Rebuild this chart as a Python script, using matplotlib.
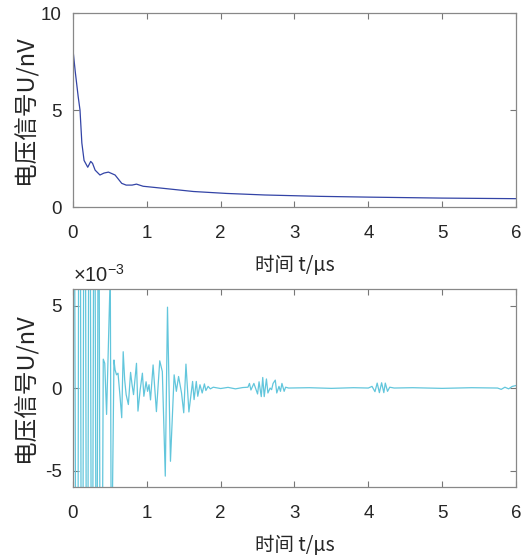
import matplotlib
matplotlib.use("Agg")
import matplotlib.pyplot as plt
import numpy as np

plt.rcParams["font.family"] = ["Liberation Sans", "DejaVu Sans"]
plt.rcParams["axes.unicode_minus"] = False
plt.rcParams["mathtext.fontset"] = "custom"
plt.rcParams["mathtext.rm"] = "Liberation Sans"

# top: voltage signal U (nV) vs time (us)
t_top = [0.0, 0.03, 0.07, 0.095, 0.12, 0.15, 0.2, 0.24, 0.265, 0.3, 0.365, 0.42,
         0.48, 0.57, 0.66, 0.72, 0.8, 0.86, 0.95, 1.18, 1.63, 2.08, 2.6, 3.34,
         4.0, 5.0, 6.0]
u_top = [8.1, 7.0, 5.7, 5.0, 3.3, 2.4, 2.05, 2.35, 2.25, 1.9, 1.65, 1.75,
         1.8, 1.65, 1.22, 1.13, 1.13, 1.18, 1.07, 0.98, 0.80, 0.70, 0.62, 0.55,
         0.51, 0.46, 0.43]

# bottom: oscillating part, values in units of 1e-3 nV
t_bot = [0.0, 0.056, 0.088, 0.122, 0.157, 0.191, 0.223, 0.257, 0.289, 0.319,
         0.347, 0.378, 0.41, 0.43, 0.455, 0.505, 0.52, 0.555, 0.57, 0.59, 0.61,
         0.635, 0.66, 0.68, 0.70, 0.72, 0.75, 0.78, 0.80, 0.82, 0.86, 0.88, 0.91,
         0.94, 0.96, 0.99, 1.01, 1.03, 1.05, 1.085, 1.13, 1.175, 1.21, 1.25, 1.28,
         1.32, 1.37, 1.40, 1.43, 1.47, 1.50, 1.53, 1.57, 1.62, 1.64, 1.67, 1.69,
         1.72, 1.75, 1.78, 1.80, 1.83, 1.86, 1.9, 2.0, 2.1, 2.2, 2.3, 2.37, 2.39,
         2.41, 2.45, 2.50, 2.52, 2.55, 2.57, 2.59, 2.62, 2.64, 2.67, 2.69, 2.71,
         2.74, 2.76, 2.79, 2.81, 2.83, 2.86, 2.88, 2.92, 3.2, 3.5, 3.8, 4.0, 4.05,
         4.09, 4.12, 4.15, 4.18, 4.21, 4.23, 4.26, 4.29, 4.35, 4.6, 5.0, 5.4,
         5.75, 5.8, 5.85, 5.9, 5.95, 6.0]
u_bot = [40, -38, 36, -34, 32, -30, 28, -26, 24, -22,
         20, -30, 1.75, 1.5, -1.6, 7.0, -12.5, 1.7, 1.1, 0.8, 0.9,
         -0.4, -1.8, 2.2, 0.5, -0.4, -1.0, 0.95, 0.2, -0.4, 1.5, -1.4, -0.1,
         0.9, -0.5, 0.38, -0.2, 0.2, -0.72, 1.4, -1.43, 1.65, 1.0, -5.34, 4.9,
         -4.44, 0.8, -0.2, 0.7, -0.3, -1.5, 1.45, -1.45, 0.4, -0.7, 0.4, -0.5,
         0.2, -0.3, 0.25, -0.15, 0.1, -0.05, 0.05, -0.03, 0.04, -0.05, 0.03, 0.05, 0.28,
         -0.12, 0.28, -0.36, 0.38, -0.52, 0.64, -0.52, 0.55, -0.3, 0.0, -0.1, 0.28,
         0.48, -0.3, 0.1, -0.2, 0.28, -0.2, 0.05, 0.0, 0.02, -0.02, 0.02, 0.0, 0.1,
         -0.22, 0.3, -0.28, 0.32, -0.28, 0.3, -0.2, 0.05, 0.0, 0.02, -0.02, 0.02,
         0.0, -0.08, 0.05, -0.05, 0.1, 0.15]

xticks = [0, 1, 2, 3, 4, 5, 6]
xlabel = "时间 t/μs"
ylabel = "电压信号U/nV"

cjk = ["Noto Sans CJK SC", "DejaVu Sans"]

fig = plt.figure(figsize=(5.27, 5.58), dpi=100)
ax1 = fig.add_axes([0.1385, 0.629, 0.8406, 0.3477])
ax2 = fig.add_axes([0.1385, 0.1272, 0.8406, 0.3548])

ax1.plot(t_top, u_top, color="#3344a6", lw=0.9)
ax1.set_ylim(0, 10)
ax1.set_yticks([0, 5, 10])

ax2.plot(t_bot, u_bot, color="#62c6dc", lw=0.9)
ax2.set_ylim(-6, 6)
ax2.set_yticks([-5, 0, 5])
ax2.text(0.0, 1.015, r"$\times10^{-3}$", transform=ax2.transAxes,
         fontsize=14.5, color="#262626", ha="left", va="bottom")

for ax in (ax1, ax2):
    ax.set_xlim(0, 6)
    ax.set_xticks(xticks)
    ax.tick_params(direction="in", top=True, right=True, length=4, width=0.8,
                   color="#777777", labelcolor="#262626", labelsize=13.5)
    ax.tick_params(axis="x", pad=13)
    ax.tick_params(axis="y", pad=8)
    for s in ax.spines.values():
        s.set_color("#888888")
        s.set_linewidth(0.9)
    ax.set_xlabel(xlabel, family=cjk, fontsize=14, color="#262626", labelpad=9)
    ax.set_ylabel(ylabel, family=cjk, fontsize=17, color="#262626")
    ax.yaxis.set_label_coords(-0.081, 0.5)

fig.savefig("out.png", dpi=100)
plt.close(fig)
